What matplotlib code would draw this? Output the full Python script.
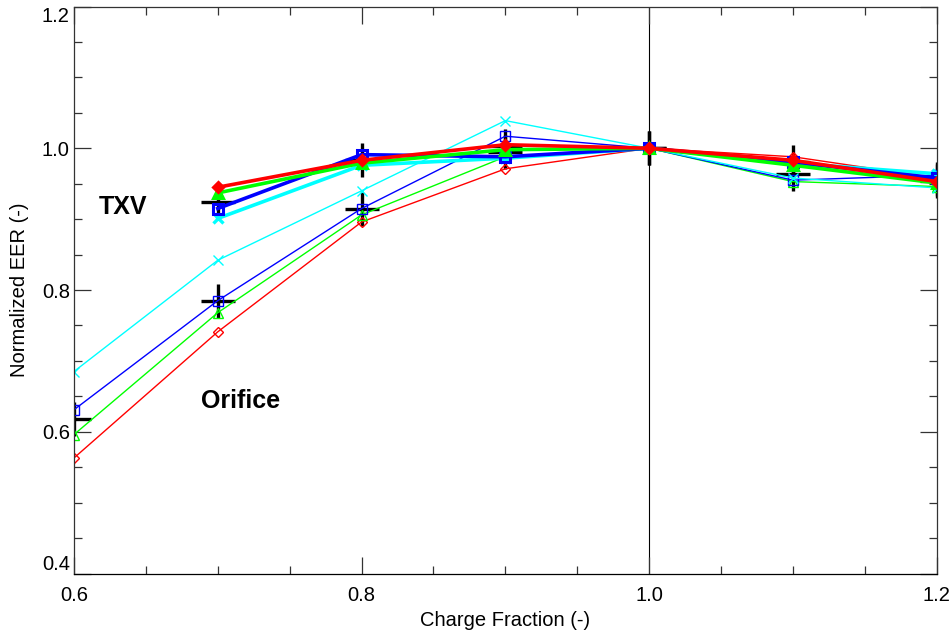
import numpy as np
import matplotlib
matplotlib.use("Agg")
import matplotlib.pyplot as plt
from matplotlib.ticker import MultipleLocator, FormatStrFormatter

plt.rcParams['font.family'] = ['Liberation Sans', 'DejaVu Sans']

# charge fraction
x_orf = [0.6, 0.7, 0.8, 0.9, 1.0, 1.1, 1.2]
x_txv = [0.7, 0.8, 0.9, 1.0, 1.1, 1.2]

# orifice (thin lines)
orf_red   = [0.563, 0.741, 0.896, 0.971, 1.0, 0.988, 0.958]
orf_green = [0.596, 0.768, 0.906, 0.988, 1.0, 0.953, 0.946]
orf_blue  = [0.631, 0.785, 0.915, 1.017, 1.0, 0.955, 0.962]
orf_cyan  = [0.685, 0.842, 0.940, 1.039, 1.0, 0.958, 0.944]
orf_mean  = [0.618, 0.785, 0.914, 1.003, 1.0, 0.964, 0.954]

# TXV (thick lines)
txv_red   = [0.945, 0.983, 1.005, 1.0, 0.983, 0.953]
txv_green = [0.937, 0.979, 0.998, 1.0, 0.976, 0.951]
txv_blue  = [0.915, 0.991, 0.988, 1.0, 0.980, 0.958]
txv_cyan  = [0.901, 0.976, 0.986, 1.0, 0.979, 0.964]
txv_mean  = [0.924, 0.983, 0.995, 1.0, 0.981, 0.956]

yticks = [0.4, 0.6, 0.8, 1.0, 1.2]
xticks = [0.6, 0.8, 1.0, 1.2]

fig = plt.figure(figsize=(9.53, 6.39), dpi=100)
ax = fig.add_axes([0.0776, 0.1025, 0.9054, 0.8873])

# orifice
ax.plot(x_orf, orf_red, color='#ff0000', lw=1.0, marker='D', ms=5, mfc='none', mew=1.0)
ax.plot(x_orf, orf_green, color='#00ff00', lw=1.0, marker='^', ms=6.5, mfc='none', mew=1.0)
ax.plot(x_orf, orf_blue, color='#0000ff', lw=1.0, marker='s', ms=6.5, mfc='none', mew=1.0)
ax.plot(x_orf, orf_cyan, color='#00ffff', lw=1.0, marker='x', ms=7, mew=1.0)

# txv
ax.plot(x_txv, txv_cyan, color='#00ffff', lw=2.6, marker='x', ms=7, mew=2.4)
ax.plot(x_txv, txv_blue, color='#0000ff', lw=2.6, marker='s', ms=6.5, mfc='none', mew=2.2)
ax.plot(x_txv, txv_green, color='#00ff00', lw=2.6, marker='^', ms=6.5, mew=2.2)
ax.plot(x_txv, txv_red, color='#ff0000', lw=2.6, marker='D', ms=5.5, mew=2.2)

# average markers
ax.plot(x_orf, orf_mean, ls='none', marker='+', ms=24, mew=2.4, color='black', zorder=1.5)
ax.plot(x_txv, txv_mean, ls='none', marker='+', ms=24, mew=2.4, color='black', zorder=1.5)

ax.axvline(1.0, color='black', lw=0.8, zorder=1)

ax.text(0.617, 0.917, 'TXV', fontsize=18, fontweight='bold', va='center', ha='left')
ax.text(0.688, 0.644, 'Orifice', fontsize=18, fontweight='bold', va='center', ha='left')

ax.set_xlim(0.6, 1.2)
ax.set_ylim(0.4, 1.2)
ax.set_xticks(xticks)
ax.set_yticks(yticks)
ax.xaxis.set_minor_locator(MultipleLocator(0.05))
ax.yaxis.set_minor_locator(MultipleLocator(0.05))
ax.xaxis.set_major_formatter(FormatStrFormatter('%.1f'))
ax.yaxis.set_major_formatter(FormatStrFormatter('%.1f'))

ax.tick_params(which='both', direction='in', top=True, right=True, labelsize=14.5, color='#333333')
ax.tick_params(which='major', length=12, width=0.9)
ax.tick_params(which='minor', length=6, width=0.9)
ax.tick_params(axis='x', pad=9)
ax.tick_params(axis='y', pad=3)
for s in ax.spines.values():
    s.set_linewidth(0.9)
    s.set_color('#333333')
ax.spines['bottom'].set_color('black')

ax.set_xlabel('Charge Fraction (-)', fontsize=14.5, labelpad=4)
ax.set_ylabel('Normalized EER (-)', fontsize=14.5, labelpad=9)

fig.canvas.draw()
ylabs = ax.yaxis.get_majorticklabels()
ylabs[0].set_va('bottom')
ylabs[-1].set_va('top')

fig.savefig('out.png', dpi=100)
